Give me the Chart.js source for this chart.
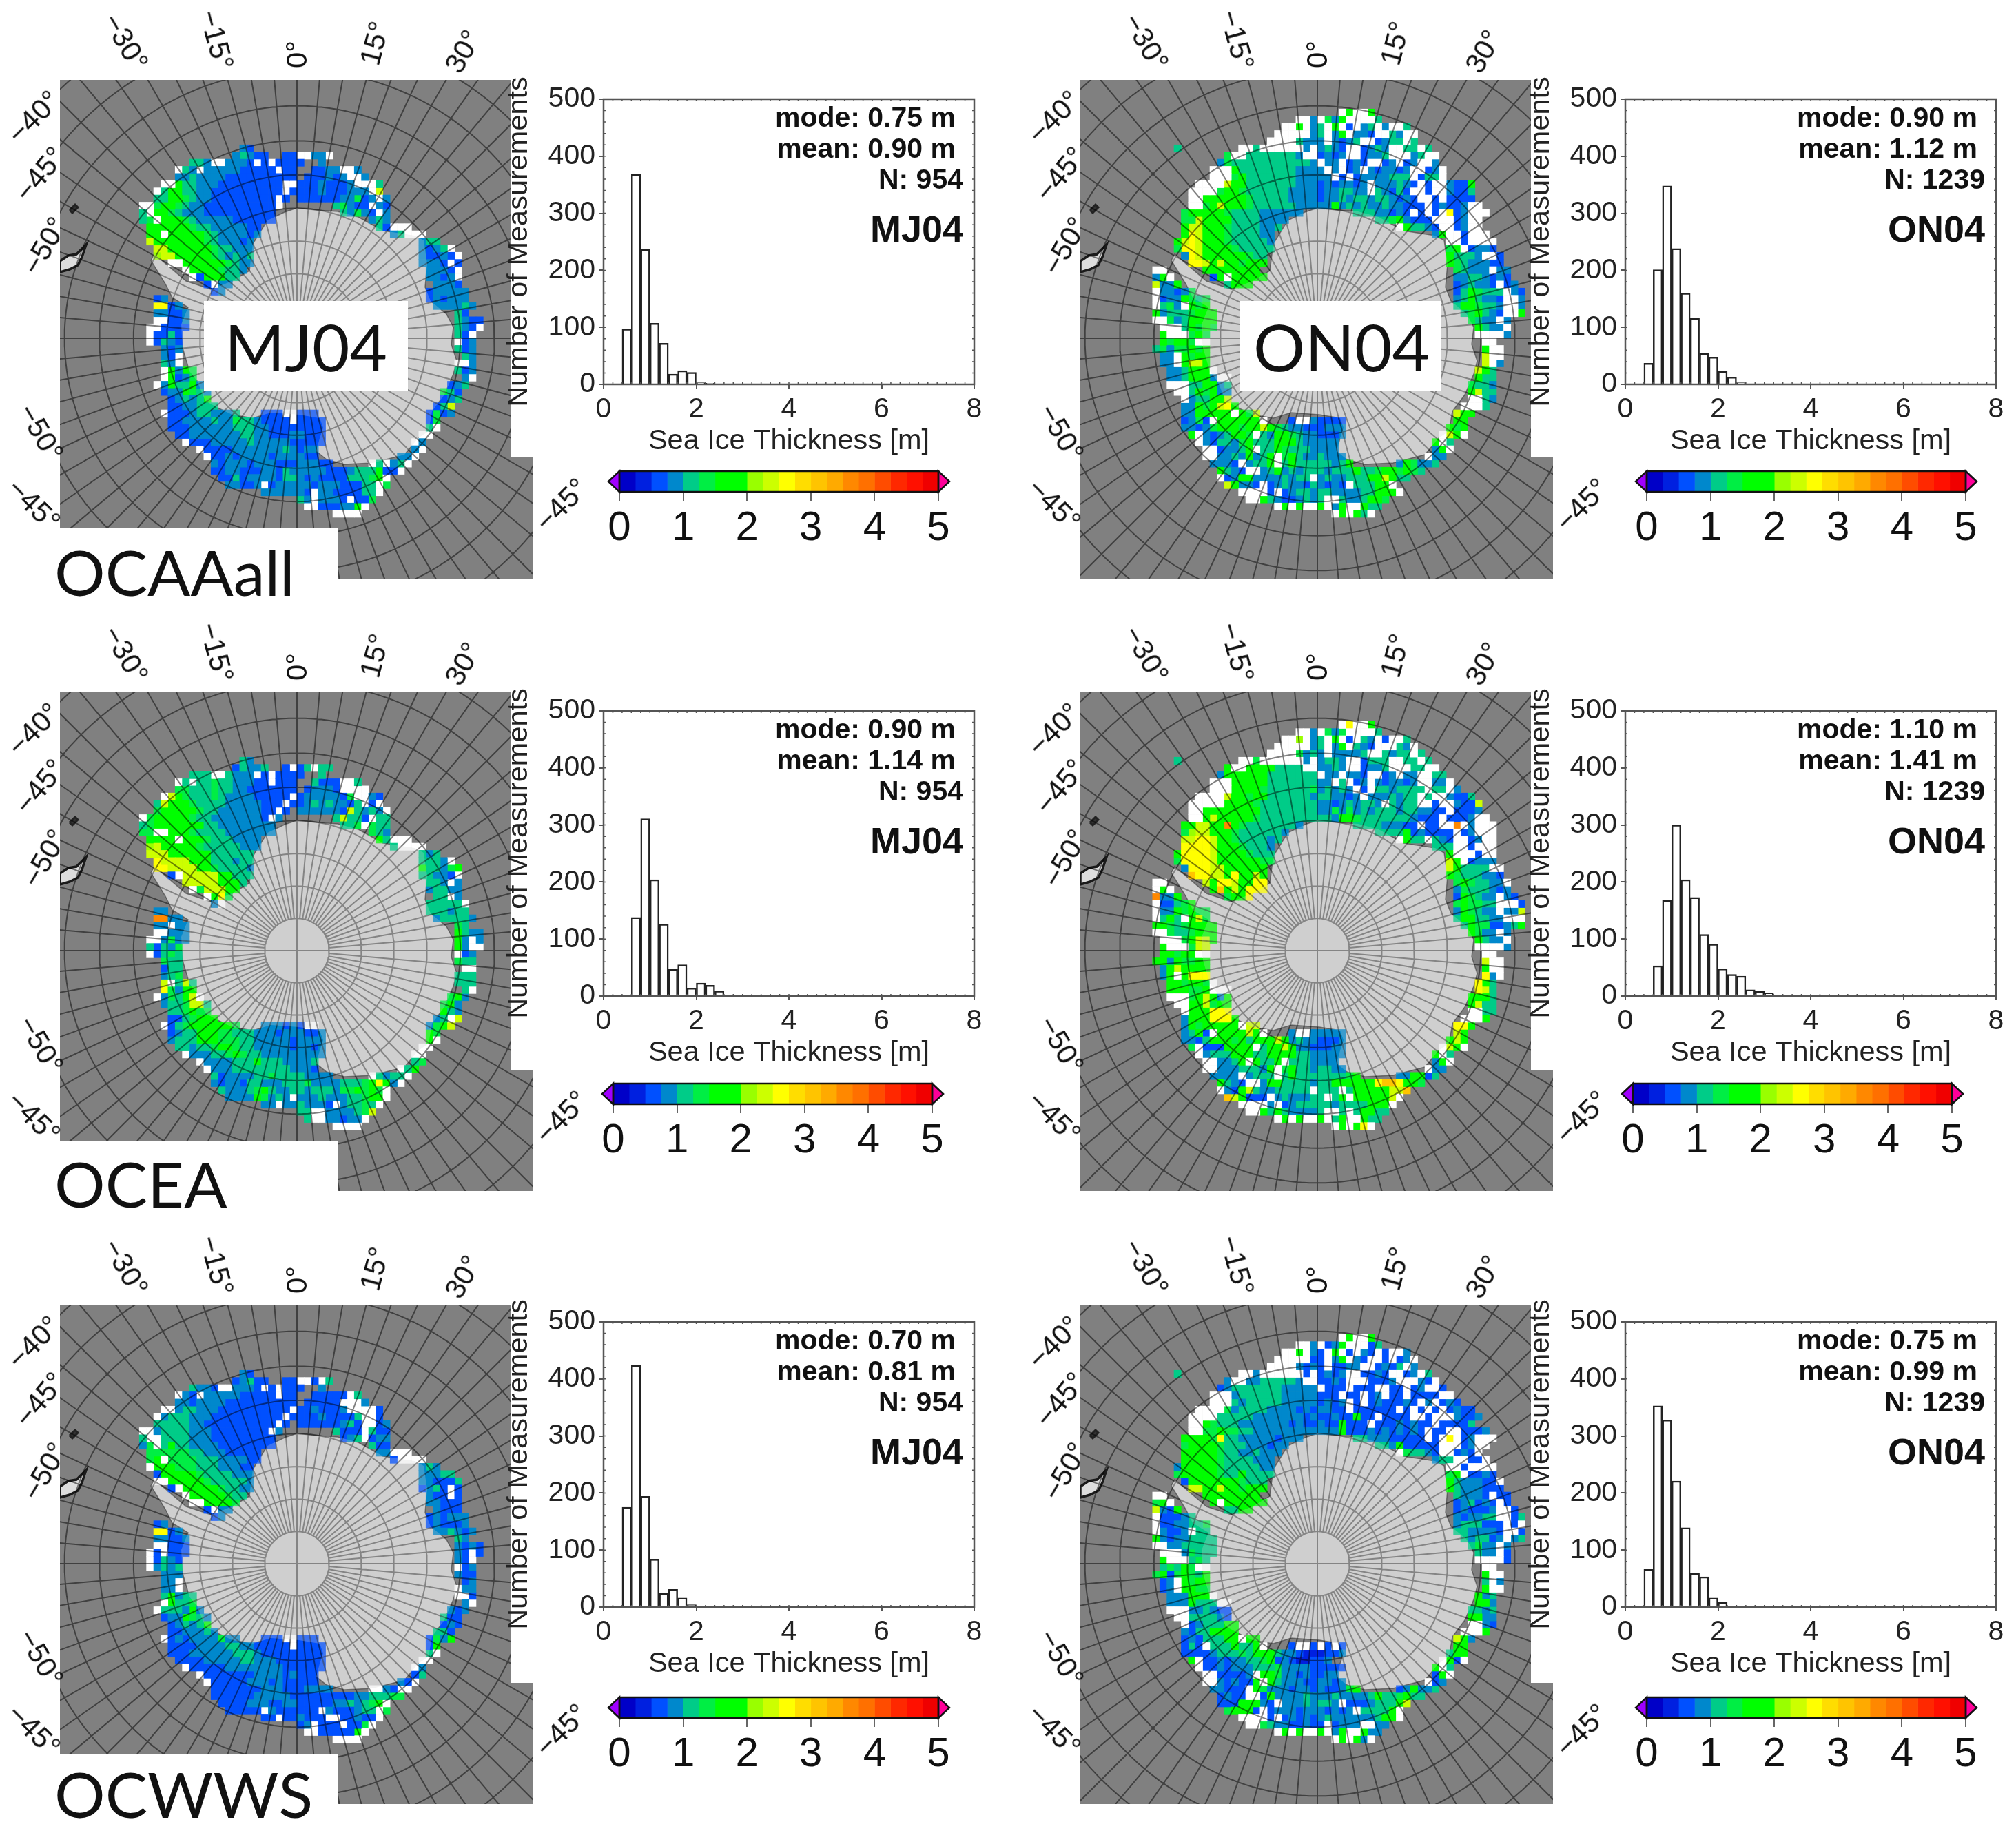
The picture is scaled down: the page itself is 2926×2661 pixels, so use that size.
<!DOCTYPE html>
<html>
<head>
<meta charset="utf-8">
<title>Sea ice thickness</title>
<script src="https://cdn.jsdelivr.net/npm/chart.js@4/dist/chart.umd.min.js"></script>
<style>
html, body { margin: 0; background: #fff; }
#page { position: relative; width: 2926px; height: 2661px; overflow: hidden; }
canvas { position: absolute; filter: blur(0.5px); }
canvas.map { filter: blur(0.7px); }
.txt { position: absolute; white-space: nowrap; color: #111; font-family: "Liberation Sans", sans-serif; line-height: 1; filter: blur(0.4px); }
</style>
</head>
<body>
<div id="page"></div>
<script>
// histogram bins (bin centres, m)
const histBins = [0.5, 0.7, 0.9, 1.1, 1.3, 1.5, 1.7, 1.9, 2.1, 2.3, 2.5, 2.7, 2.9, 3.1, 3.3, 3.5, 3.7];
const countsOCAAallMJ04 = [97, 368, 237, 107, 72, 18, 24, 21, 3, 2, 0, 1, 1];
const countsOCAAallON04 = [37, 201, 348, 238, 160, 116, 54, 48, 23, 13, 3, 1];
const countsOCEAMJ04 = [2, 138, 311, 204, 126, 47, 55, 14, 23, 19, 9, 2, 2, 0, 1, 0, 1];
const countsOCEAON04 = [1, 53, 168, 300, 204, 173, 108, 91, 48, 38, 35, 11, 8, 5, 1];
const countsOCWWSMJ04 = [175, 424, 194, 84, 24, 31, 16, 4, 0, 1, 1, 1];
const countsOCWWSON04 = [66, 353, 328, 221, 139, 59, 53, 16, 8, 2];

const products = ["OCAAall", "OCEA", "OCWWS"];
const seasons = ["MJ04", "ON04"];
const modes = [["0.75", "0.90"], ["0.90", "1.10"], ["0.70", "0.75"]];
const means = [["0.90", "1.12"], ["1.14", "1.41"], ["0.81", "0.99"]];
const sampleSizes = [954, 1239];

// colour bar: 20 classes of 0.25 m, letters a..t in the map rows below
const colorStep = 0.25;
const colorHex = ["#0000c8", "#0020e0", "#0050ff", "#0088cc", "#00cc88", "#00ee44", "#00ff00", "#00ff00", "#99ff00", "#ccff00",
  "#ffff00", "#ffdd00", "#ffc400", "#ffaa00", "#ff8800", "#ff7000", "#ff4c00", "#ff2800", "#ff1000", "#f00000"];
const colorLetters = "abcdefghijklmnopqrst";

// coast of the continent, map units east / north of the pole
const coastX = [0, 28, 59, 89, 125, 171, 184, 189, 186, 194, 217, 227, 224, 232, 227, 214, 196, 191, 176, 156, 110, 69, 43, 28, 33, 38, 33, 3, -38, -64, -94, -115, -133, -145, -156, -166, -168, -158, -181, -191, -212, -207, -161, -125, -94, -69, -64, -43, -18];
const coastY = [189, 186, 184, 176, 156, 149, 142, 108, 74, 54, 35, 16, -9, -33, -52, -82, -106, -135, -145, -169, -181, -183, -176, -164, -145, -130, -116, -111, -108, -116, -111, -101, -91, -62, -48, -14, 20, 45, 59, 79, 113, 122, 83, 71, 83, 98, 137, 171, 183];
const tipX = [-344, -332, -320, -306, -312, -318, -330, -344];
const tipY = [112, 120, 122, 136, 118, 106, 100, 96];
const islandX = [-330, -322, -318, -326];
const islandY = [186, 194, 190, 182];

// gridded thickness classes, one string per grid row from the north, "column:cells", w = no ice thickness value
const firstRow = { MJ04: -27, ON04: -32 };

const mapOCAAallMJ04 = [
"-8:dc","-9:dedcc -2:ccwwddw","-15:eedwwdddcwcwcccc 3:d","-17:wedwdddddcccccwcc 2:ccddwwd","-17:ddeddddcccccccccc 1:cccdcdwwd",
"-19:wwgeedddcccccccccwwc 1:ccdcccdwwwe","-20:weggeeddccccccccccwc 0:cccdcccdddwj","-20:eeggfeddcccccccccwc 0:ccccccddfcdwd",
"-22:wwfggfeddccccccccccw 5:efdccwdc","-22:ewggfedddcccccccccc 6:edfdcwd","-22:efwgggfedddddcccccc 10:ded","-21:ggggggfeedddddcc 11:ecwww",
"-21:ggwgggggfeddddcd 13:dewww","-21:jgggggggfedddcd 17:dee","-20:jjggggggfeeddd 17:dcdew","-20:ijjgggggfedede 17:dccdcw",
"-18:wwggggggfedd 17:dddcwc","-16:wggggfeed 18:dddcw","-15:wcgggee 18:ddcdw","-13:cwdd 19:dddc","-12:cd 18:cddddd","-20:cd 18:cdcddd",
"-20:kkcd 19:dddded","-20:ddccd 22:ec","-20:wwccd 22:edcc","-21:wwcccc 22:edcw","-21:wccec 22:ecw","-21:wcedc 22:wcd","-19:dcd 22:ecd",
"-19:dcw 23:ed","-19:edw 22:wwd","-19:wgdgf 22:ecd","-19:wgcdf 23:dw","-20:wdgeegd 21:cde","-19:cddgfed 20:fec","-18:cdedeg 20:cde",
"-18:ccddeee 19:cej","-19:wcccdeeddde -5:cccwwccc 18:cfcd","-18:ccddddeddfeedccccwcccc 18:cf","-18:cccddddddeeeddcccccccc 18:ew",
"-17:ccdddddddeeddcccddccc 17:ww","-16:wcccdddddedddddccccc 16:wd","-14:wccccdddddddedcdd 16:dw","-13:wccdcddddcddddcc 14:ddw",
"-12:dcdddcdddcccdddcc 10:wewdew","-12:ccddcccddcedddddcccdeeegccw","-11:ccecddddceedcdcccceeefgw","-10:ddccdwcdddddcdddccceewf",
"-5:ddddddcwddcccceew","0:edwdddcwccf","1:wwcccddgw","5:wwww"];

const mapOCEAMJ04 = [
"-8:ed","-9:cedde -2:cwcewee","-15:eeewwedddwcwcccc 3:e","-17:weweefeedddccwccc 2:ecccwwe","-17:ffeeefeeddccccccc 1:cdddcwwww",
"-19:wjgfeeefeddddcccccwc 1:dddddcfwwdc","-20:ejgggfeeeedddddcccwc 0:cdededdcewcw","-20:fgggggfeeddddddccwc 0:ddddddcjededw",
"-22:wfgggggfeedddddddcwd 5:ejeecwee","-22:efgggggggeedddddddd 6:eefwfee","-22:ffwwgggfeeeeddddddd 10:fed","-21:ggggwgggfeeedddd 11:gewww",
"-21:ijgggggfeeeeeddd 13:ewwww","-21:jjjggggggeeeeee 17:ede","-20:kjjjjgggeeedee 17:eeedw","-20:kkjjjjggfeeeed 17:geedfg",
"-18:cwjjjjjggeee 17:eeddcw","-16:jjjjjggge 18:eedwd","-15:wfjjjgg 18:deedd","-13:wgkf 19:eewd","-12:dw 18:eeeeew","-20:dd 18:eeedee",
"-20:oodd 19:deeeed","-20:ddwdd 22:fe","-20:wwddd 22:gedd","-21:wwdfdd 22:gdwd","-21:ecedf 22:gdww","-21:wcefe 22:wcd","-19:fee 22:fee",
"-19:cee 23:ww","-19:def 22:eee","-19:jweje 22:eee","-19:kfdgg 23:ew","-20:wdfegjw 21:fgd","-19:deefjje 20:fgd","-18:eefgff 20:ged",
"-18:ccefggg 19:dewj","-19:wcefggggggf -5:dddcdcww 18:dfgj","-18:cdeegggffeeedddcdddccd 18:gf","-18:deeegggfffeedddddcdddd 18:gw",
"-17:eedeefggfeedddddcddcd 17:ww","-16:wdddeefgfeeddddddddd 16:ww","-14:wddddeeegeeedddde 16:ef","-13:wdddeeeeeeeedddc 14:weg",
"-12:ecddddeefeeeedddd 10:wedeew","-12:dcddceedddeeefddddeeefgkgdw","-11:edddefgeddeedeeedffgfgfw","-10:ddddgfdedwdddedddeefggw",
"-5:ddwddedddcwdeefew","0:eewwddddefj","1:ewwddcddw","5:wwww"];

const mapOCWWSMJ04 = [
"-8:dc","-9:cdecc -2:ccwwcwe","-15:eddcwwdddcwcwccc 3:d","-17:wdcwdddddcccccwcc 2:cccccwe","-17:ddcddddcccccccccc 1:cccccwwwd",
"-19:wwdeedddccccccccccwc 1:cdcccdwwwwc","-20:wdeeedddccccccccccwc 0:cccdccccewwc","-20:eeeeeddccccccccccwc 0:ccccccdecwwcd",
"-22:wwdeeeedddccccccccwd 5:ecccwecc","-22:ewweeeedddccccccccc 6:cdewcdd","-22:dfwegeeddddcccccccc 10:ecc","-21:ffffffeedddccccc 11:ddwww",
"-21:fgwffffeeeddddcc 13:cwwww","-21:wgggfffeeedddcc 17:ded","-20:cgggggfeeeeddd 17:dddee","-20:wwgggggfeeeeed 17:ddccce",
"-18:cwgggggfeedd 17:cdecwc","-16:wgggggfee 18:dccwc","-15:wwggggf 18:ddccc","-13:cwdd 19:dccc","-12:cd 18:cdcddd","-20:cd 18:cdcccd",
"-20:kkcd 19:ddedcd","-20:ddccd 22:ed","-20:wwccc 22:dcdc","-21:wcwccc 22:dcwc","-21:wcedc 22:dcw","-21:wdede 22:wcd","-19:ddd 22:dcc",
"-19:ddw 23:cd","-19:ddw 22:wdd","-19:egdee 22:wwc","-19:wgeef 23:dw","-20:weeedgd 21:dcd","-19:cddgfed 20:ecc","-18:cdedeg 20:cdc",
"-18:ccddded 19:eec","-19:wcdcddddfdd -5:cccwwccc 18:cfdg","-18:ccccddddeeddcccccwcccc 18:cg","-18:cccddddddeeedccccccccc 18:ew",
"-17:ccccdddddeedddccccccc 17:ww","-16:wcccccddddddddcccccc 16:wd","-14:wcccccccddddcdccc 16:ce","-13:wcccccdddcdccccc 14:dcw",
"-12:cccccccdddcccdddd 10:wwdcww","-12:ccccccdddddcccccccccddeeeff","-11:ccccdddccddcccccddedefgw","-10:cccccwdccccccwdcccdeewf",
"-5:ccwccdcccwwccdccw","0:cdwcccwccfw","1:wwcccccgw","5:wwww"];

const mapOCAAallON04 = [
"3:wgwwg","-3:wwdwfdgwwwwe","-5:wwgwdewgwcwdewdwwe","-6:wwwwwdewdgwddcwwedww","-7:wwwwedddwdcdewwcdeewe",
"-20:e -11:wwewwwwwwdwdedcwwcdedwweewe","-13:fwweeeeeeedwwcdcdwwcddewwwdeww","-14:dfeeeeeeeeeeedwddwcdcwwcdwcdwwd","-15:wwwgeeeeeeeeddddwdwcdwdcddcdwwcdw",
"-15:wwwfgeeeeeeedddddwcwcddddeeewceew","-17:wwwwjggeeeeeeedddcdcddcdwdddedcwcwwdccg","-18:wwwwfggfeeeeeeddddcddeeddwedcecwwcwwdcce",
"-18:wwggggggfeeeeeddddcddedeedeedcdcwwcwcccc","-18:wwfgjgggfeeeeeedddddgdededdeddcccwcdccdww","-19:fgggggfeeeedddddd 5:eeeddcdcwcwcwkcdwww",
"-19:ffjggggeeeedddd 8:eefgdcccwwwcdww","-19:gjjgggfeeeedde 11:wgeedcwwcdww","-19:gkjgggfeeeedd 16:dgwwcwww","-20:gjkjgggfeeeeed 18:wwcwwww",
"-20:fkkjggggfeeeee 18:fgwcddc","-19:dkjggggggfee 18:geeedwwc","-18:kkjgjggfggg 18:gfedddcc","-23:ww -16:gggggggg 19:fedddwdd",
"-23:dgw -15:cgwggggg 19:ddeedcdc","-23:jddg -13:eggg 19:cdeddcwcd","-23:wddcdf 19:cegfeeewdc","-23:wcddgfef 19:degeddcwwd",
"-23:wefdwgfg 19:eggfeedwwd","-23:gdeeefggg 20:efgedcwwg","-23:wwfdegggg 21:feddwd","-22:wwwegfgf 22:geddw","-22:gwwwfgf 22:wwwwd",
"-22:gfggfww 23:ww","-23:efdffgfg 23:gww","-22:ddwgfgg 23:jww","-22:ddwgjjg 23:jwd","-21:ddegggw 22:jge","-21:ddegggdww 22:gee",
"-21:wwweeggde 21:feed","-20:wwegfgdd 21:gjee","-19:wdeeggj 21:wwed","-19:ddgfgjkg 20:wwwe","-19:ddgggggwgfj 19:jgg",
"-19:cdfcwggggggw -4:cwwdcccc 19:gg","-19:ddcdfgggfggjgfeddcccddd 18:gfg","-18:gwdcdeggfwedggfeddcccd 17:wjgw","-17:wdceedfgeeegggeddddd 16:gwe",
"-16:wwcddegweegfeeedddd 16:dgw","-16:wwddedgdegwfgeddeddd 15:wdd","-15:dddcwdeegwegeeeeedeg 11:dgfdde","-14:gedcwwdegdedeeedeeegeefggfgfe",
"-14:wcdggddddedeewdeddeeeggjgee","-13:jgddcwcdeddcedcdcweeeggw","-11:wwwwcwcdeedeeddddeegggw","-10:wwgedccdedewweddeggf","-6:wgwgwwgwdgwwgee","2:wgwgew"];

const mapOCEAON04 = [
"3:wkwwg","-3:wwdwfdfwwwwe","-5:wwiwdewgwcwedwcwwe","-6:wwwwwdewdgwedcwwwedw","-7:wwwwfdedwddddewwedeewe",
"-20:e -11:wwfwwwwwwdwdeedwwceeewweewe","-13:gwwggggeeeewwddedwwcddewwweeww","-14:dggggggeeeeeeewddwddcwwcdwddwwee","-15:wwwgggggeeeeeeeddwewcdwdcddcdwwddw",
"-15:wwwggggfeeeeeefdededwcweedeeeeweewd","-17:wwwwjggfggeeeeeedeeddcdwdddedeewewwdcce","-18:wwwwwggggfeeeeeeeeddcdedeedwedeewwcwwdccj",
"-18:wwggggggggeeeeeeeeddfdfdedeeedeeddccwcccd","-18:wwgjgggggfeeeeeeeeeedggfeeeeeeedcccwcccdww","-19:ggjjggogfeeeeeeed 5:eeeedddccwccwwowdwww",
"-19:fijjgggfeeeeeed 8:eeeegcdccccwcdwww","-19:jjkkjggfeeeede 11:wgeewedcwwcdww","-19:kkkkjgggfeeed 16:eeewwcwww","-20:gkkkkjggggfeee 18:gwwwcww",
"-20:fkkkkjggggggff 18:jgwcddd","-19:dkkkjjgggggg 18:jgeeeeww","-18:mkkjjgkggjg 18:gfeeeddc","-23:ww -16:jgkkjggkk 19:fgfeeddw",
"-23:wgw -15:gmgjgkkk 19:dfeeedcd","-23:oddg -13:fggk 19:cgfeddwdc","-23:wccefg 19:fgffeewwwc","-23:wddgfgff 19:dgfeddwddj",
"-23:wegewgjf 19:eggeeddwww","-23:ggfefgggg 20:egffccdeg","-23:wwfeefggg 21:gfddwd","-22:wwwfgjjg 22:geddw","-22:gwwwfjj 22:wwwwd",
"-22:ggfggww 23:ww","-23:ggdgffgg 23:jww","-22:dgjgggg 23:gww","-22:dgwgkkk 23:kdw","-21:ggfggfw 22:kge","-21:gggffgwww 22:kje",
"-21:wwwfgjgdg 21:ggge","-20:wwggjfgg 21:gjee","-19:wgggkkk 21:wwee","-19:dgggkkkg 20:wwwg","-19:dgfgggggwjj 19:kkg",
"-19:degcwggggjgw -4:dwwddddd 19:jg","-19:ddcegggfgegggjgdeddcccd 18:gjg","-18:fwcccggggweggjgddcccdd 17:wjgw","-17:wdeeegggeeggggeeddddd 16:gwe",
"-16:wwddegwgeegweeedddd 16:dgw","-16:wwdddeeedgwfgeedeedd 15:wdd","-15:ddddwdeeewegeeeeeeefg 11:ddggce","-14:gedcwwdggeeeedeeggggggkmmkggf",
"-14:wdcgjeddeeeeeweeewegggggjjm","-13:mjgcccwdedddeewegwgggggjw","-11:wwwwdwcdeeeeedeeeegggw","-10:wwgegeddddewweweggee","-6:wgwgwwgwegwwgee","2:wgwgkw"];

const mapOCWWSON04 = [
"3:wgwwg","-3:wwdwcdgwwwce","-5:wwgwdcwgwcwdcwcwwd","-6:wwwwwccwdgwdcwwcwcdw","-7:wwwwdcdcwccddwwcdcewd",
"-20:e -11:wwdwwwwwwcwcdcdwwccdcwwcdwe","-13:dwwddeeeeedwwccdcwwwcccdwwwdcw","-14:cdeeeeeeedddddwcccwcccwwccwcdwwc","-15:wwwdeeeeeedddddcccwccwcdwccwccccww",
"-15:wwwedeeeeedddddcdcdwcwcdcccdcwdwcdc","-17:wwwwfdeeeeddddcdcddccwccccccwcwcwcwcdcc","-18:wwwweeeeedddddddcdccdccgccwccccwwcwwwdccd",
"-18:wwgfeeedddddddcdccdccgcccwcccdcdccwcccce","-18:wwffgffeeddddddddddddgcccdcdcdcdcwccwwcccd","-19:ggggfkeedddddcddd 5:eedddcccccwcwkwcdwww",
"-19:fggggfeeedddcdd 8:eedgcccccwwwcdww","-19:gggggfeeddeddd 11:wfeedcwwcdcw","-19:gggggfeeeeddd 16:deewwccw","-20:dgggggfeeeeedd 18:wwcwwww",
"-20:fgggggfeegeeee 18:fgwccdc","-19:cgggggggfeee 18:gedddccw","-18:jjggjggfggg 18:gedddccc","-23:ww -16:gggggggg 19:edddcwcc",
"-23:fgw -15:gwgggggg 19:cdecdcwc","-23:jdcg -13:eegg 19:cdcccdwwc","-23:wcccde 19:dcddeewwce","-23:wccddeef 19:deeecccwcw",
"-23:wdccdwee 19:eeddddcwwc","-23:gdcddeeee 20:edeecdwde","-23:wwddeeeee 21:efddwd","-22:wwwdfeee 22:eddwc","-22:gwwwefe 22:wwwwc",
"-22:efegfww 23:ww","-23:fgcfgfeg 23:gww","-22:cdwgfgg 23:ewd","-22:cdwggff 23:gww","-21:dddgggw 22:gde","-21:dddgeeeww 22:ggd",
"-21:wwwddedcc 21:eede","-20:wweeeedc 21:ggdd","-19:wcdeeegg 21:wwdc","-19:dceegggg 20:wwwg","-19:cdceeeggwgg 19:jgd",
"-19:cecweeegeegw -4:cwwcwcwc 19:gg","-19:ccccdeeefegggeddcbbbccd 18:egg","-18:gwccdcddeefgcdcbbccd 17:wgcw","-17:wccdcdddeeefddddccccc 16:gwe",
"-16:wwccccdwggfddcdccdd 16:cgw","-16:wwdcdccgwgedddccddcd 15:wcd","-15:ddcccwgfdddcddcdccdfg 11:cdgdde","-14:cdccwwcgddddedddeddddegeefgee",
"-14:cccgggdcwdddedeedwcccdeeegj","-13:fgggcwcdddcdddcdcdweeeegw","-11:wwwwcwcdcdcdeddddddeggw","-10:wwfeddccdccwcdddwwdd","-6:wgwgwwgwdgwwgdd","2:wgwgdw"];

const panelCounts = [
  [countsOCAAallMJ04, countsOCAAallON04],
  [countsOCEAMJ04, countsOCEAON04],
  [countsOCWWSMJ04, countsOCWWSON04]
];
const panelMaps = [
  [mapOCAAallMJ04, mapOCAAallON04],
  [mapOCEAMJ04, mapOCEAON04],
  [mapOCWWSMJ04, mapOCWWSON04]
];

// page layout
const poleY = [491, 1380, 2270];
const poleX = [431, 1912];
const plotTop = [144, 1032, 1919];
const plotLeft = [876, 2359];
const barLeft = [[899, 2390], [890, 2370], [899, 2390]];
const barMid = [699, 1588, 2479];
const labelBase = [863, 1751, 2637];
const cell = 10.4;
const sansFont = '"Liberation Sans", sans-serif';

const page = document.getElementById("page");

function addCanvas(x, y, w, h, cls) {
  const c = document.createElement("canvas");
  c.width = w;
  c.height = h;
  c.style.left = x + "px";
  c.style.top = y + "px";
  c.style.width = w + "px";
  c.style.height = h + "px";
  if (cls) c.className = cls;
  page.appendChild(c);
  return c;
}

function addText(text, x, y, size, opts = {}) {
  const d = document.createElement("div");
  d.className = "txt";
  d.textContent = text;
  d.style.left = x + "px";
  d.style.top = y + "px";
  d.style.fontSize = size + "px";
  if (opts.bold) d.style.fontWeight = "bold";
  if (opts.family) d.style.fontFamily = opts.family;
  const ax = opts.align === "right" ? "-100%" : opts.align === "left" ? "0" : "-50%";
  d.style.transform = `translate(${ax},-50%) rotate(${opts.rot || 0}deg)`;
  page.appendChild(d);
}

function graticule() {
  const R = 1070;
  const pts = [];
  for (let lon = 0; lon < 360; lon += 5) {
    const a = lon * Math.PI / 180;
    const inner = lon % 90 === 0 ? 0 : 46;
    pts.push({ x: inner * Math.sin(a), y: inner * Math.cos(a) });
    pts.push({ x: 800 * Math.sin(a), y: 800 * Math.cos(a) });
    pts.push({ x: null, y: null });
  }
  for (let lat = 85; lat >= 35; lat -= 5) {
    const r = R * Math.tan((90 - lat) / 2 * Math.PI / 180);
    for (let lon = 0; lon <= 360; lon += 2) {
      const a = lon * Math.PI / 180;
      pts.push({ x: r * Math.sin(a), y: r * Math.cos(a) });
    }
    pts.push({ x: null, y: null });
  }
  return pts;
}

function cellDatasets(rows, first) {
  const groups = {};
  rows.forEach((row, n) => {
    const j = first + n;
    row.split(" ").forEach(seg => {
      const [k0, cells] = seg.split(":");
      [...cells].forEach((ch, i) => {
        const k = parseInt(k0) + i;
        (groups[ch] = groups[ch] || []).push({ x: (k + 0.5) * cell, y: -(j + 0.5) * cell });
      });
    });
  });
  return Object.keys(groups).map(ch => ({
    data: groups[ch],
    showLine: false,
    order: 3,
    pointStyle: "rect",
    pointRadius: cell / Math.SQRT2 + 0.4,
    pointBorderWidth: 0,
    pointBackgroundColor: ch === "w" ? "#ffffff" : colorHex[colorLetters.indexOf(ch)]
  }));
}

function polygon(xs, ys, fill, stroke, width, order) {
  const data = xs.map((x, i) => ({ x, y: ys[i] }));
  data.push({ x: xs[0], y: ys[0] });
  return { data, showLine: true, fill: "shape", backgroundColor: fill, borderColor: stroke, borderWidth: width, pointRadius: 0, order, tension: 0 };
}

function drawMap(row, col) {
  const w = 686, h = 724;
  const px = poleX[col], py = poleY[row];
  const left = px - 344, top = py - 375;
  const canvas = addCanvas(left, top, w, h, "map");
  const season = seasons[col];
  const datasets = [
    polygon(coastX, coastY, "#cfcfcf", "#555555", 1.5, 5),
    polygon(tipX, tipY, "#dddddd", "#1a1a1a", 3.5, 5),
    polygon(islandX, islandY, "#333333", "#222222", 3, 5),
    ...cellDatasets(panelMaps[row][col], firstRow[season]),
    { data: graticule(), showLine: true, spanGaps: false, borderColor: "rgba(0,0,0,0.5)", borderWidth: 2, pointRadius: 0, order: 2, tension: 0 },
    // veil keeps the graticule paler over the continent
    polygon(coastX, coastY, "rgba(207,207,207,0.28)", "rgba(0,0,0,0)", 0, 1)
  ];
  new Chart(canvas, {
    type: "scatter",
    data: { datasets },
    options: {
      responsive: false, animation: false, devicePixelRatio: 1,
      layout: { padding: 0, autoPadding: false },
      events: [],
      scales: {
        x: { type: "linear", display: false, min: -344, max: 342 },
        y: { type: "linear", display: false, min: -349, max: 375 }
      },
      plugins: { legend: { display: false }, tooltip: { enabled: false } }
    },
    plugins: [{
      id: "sheet",
      beforeDatasetsDraw(chart) {
        const g = chart.ctx, a = chart.chartArea;
        g.save();
        g.fillStyle = "#808080";
        g.fillRect(a.left, a.top, a.right - a.left, a.bottom - a.top);
        g.restore();
      },
      afterDraw(chart) {
        const g = chart.ctx;
        g.save();
        g.fillStyle = "#fff";
        g.fillRect(654, 0, 40, 548);
        if (col === 0) g.fillRect(0, 651, 403, 80);
        g.restore();
      }
    }]
  });

  // graticule labels
  const edgeLabels = [["−30°", 182, 61, 60], ["−15°", 314, 58, 75], ["0°", 431, 79, -90], ["15°", 544, 63, -75], ["30°", 672, 75, -60],
    ["−40°", 49, 170, -45], ["−45°", 58, 253, -50], ["−50°", 65, 357, -60], ["−50°", 59, 628, 60], ["−45°", 49, 733, 45], ["−45°", 815, 733, -45]];
  const dy = py - poleY[0], dx = px - poleX[0];
  edgeLabels.forEach(t => addText(t[0], t[1] + dx, t[2] + dy, 42, { rot: t[3] }));

  if (row === 0) {
    const boxLeft = col === 0 ? 296 : 1799;
    const box = document.createElement("div");
    box.style.cssText = `position:absolute;left:${boxLeft}px;top:437px;width:${col === 0 ? 296 : 293}px;height:130px;background:#fff`;
    page.appendChild(box);
    addText(season, boxLeft + 148, 503, 94, { family: "Lato, sans-serif" });
  }
  if (col === 0) addText(products[row], 79, labelBase[row] - 33, 92, { family: "Lato, sans-serif", align: "left" });
}

function drawHist(row, col) {
  const pl = plotLeft[col], pt = plotTop[row];
  const plotW = 538, plotH = 414;
  const yw = 143, xh = 115, padTop = 35;
  const canvas = addCanvas(pl - yw, pt - padTop, Math.min(yw + plotW + 30, 2926 - (pl - yw)), padTop + plotH + xh);
  const counts = panelCounts[row][col];
  new Chart(canvas, {
    type: "bar",
    data: {
      datasets: [{
        data: counts.map((v, i) => ({ x: histBins[i], y: v })),
        backgroundColor: "#ffffff",
        borderColor: "#222222",
        borderWidth: 2.5,
        barPercentage: 1,
        categoryPercentage: 1
      }]
    },
    options: {
      responsive: false, animation: false, devicePixelRatio: 1,
      layout: { padding: { top: padTop, right: canvas.width - yw - plotW, left: 0, bottom: 0 }, autoPadding: false },
      events: [],
      scales: {
        x: {
          type: "linear", min: 0, max: 8, offset: false,
          grid: { offset: false, drawOnChartArea: false, tickLength: 6, color: "#555", lineWidth: 2 },
          border: { display: false },
          ticks: { stepSize: 2, maxRotation: 0, padding: 6, color: "#222", font: { family: sansFont, size: 41 } },
          title: { display: true, text: "Sea Ice Thickness [m]", color: "#222", font: { family: sansFont, size: 41.5 }, padding: { top: 4, bottom: 8 } },
          afterFit(s) { s.height = xh; }
        },
        y: {
          type: "linear", min: 0, max: 500,
          grid: { drawOnChartArea: false, tickLength: 6, color: "#555", lineWidth: 2 },
          border: { display: false },
          ticks: { stepSize: 100, padding: 6, color: "#222", font: { family: sansFont, size: 41 } },
          title: { display: true, text: "Number of Measurements", color: "#222", font: { family: sansFont, size: 41.5, lineHeight: 1 }, padding: { top: 0, bottom: 3 } },
          afterFit(s) { s.width = yw; }
        }
      },
      plugins: { legend: { display: false }, tooltip: { enabled: false } }
    },
    plugins: [{
      id: "frame",
      afterDraw(chart) {
        const g = chart.ctx, a = chart.chartArea, sx = chart.scales.x, sy = chart.scales.y;
        g.save();
        g.strokeStyle = "#555";
        g.lineWidth = 2.5;
        g.strokeRect(a.left, a.top, a.right - a.left, a.bottom - a.top);
        g.lineWidth = 1.5;
        g.beginPath();
        for (let v = 0; v <= 8.001; v += 0.2) {
          const x = sx.getPixelForValue(v);
          g.moveTo(x, a.bottom); g.lineTo(x, a.bottom - 3);
          g.moveTo(x, a.top); g.lineTo(x, a.top + 3);
        }
        for (let v = 0; v <= 500; v += 20) {
          const y = sy.getPixelForValue(v);
          g.moveTo(a.left, y); g.lineTo(a.left + 3, y);
          g.moveTo(a.right, y); g.lineTo(a.right - 3, y);
        }
        g.stroke();
        g.restore();
      }
    }]
  });

  const right = pl + plotW;
  addText(`mode: ${modes[row][col]} m`, right - 27, pt + 26, 41, { bold: true, align: "right" });
  addText(`mean: ${means[row][col]} m`, right - 27, pt + 71, 41, { bold: true, align: "right" });
  addText(`N: ${sampleSizes[col]}`, right - 16, pt + 116, 41, { bold: true, align: "right" });
  addText(seasons[col], right - 16, pt + 188, 54, { bold: true, align: "right" });
}

function drawColorBar(row, col) {
  const bl = barLeft[row][col], mid = barMid[row];
  const pad = 36, barW = 463, barH = 30;
  const canvas = addCanvas(bl - pad, mid - 20, barW + pad * 2, 115);
  new Chart(canvas, {
    type: "bar",
    data: {
      labels: [""],
      datasets: colorHex.map(c => ({ data: [colorStep], backgroundColor: c, barPercentage: 1, categoryPercentage: 1, borderWidth: 0 }))
    },
    options: {
      indexAxis: "y",
      responsive: false, animation: false, devicePixelRatio: 1,
      layout: { padding: { left: pad, right: pad, top: 5, bottom: 0 }, autoPadding: false },
      events: [],
      scales: {
        x: {
          type: "linear", stacked: true, min: 0, max: 5,
          grid: { drawOnChartArea: false, tickLength: 13, color: "#666", lineWidth: 2 },
          border: { display: false },
          ticks: { stepSize: 1, padding: 4, maxRotation: 0, color: "#111", font: { family: sansFont, size: 60 } },
          afterFit(s) { s.height = 115 - 5 - barH; }
        },
        y: { stacked: true, display: false }
      },
      plugins: { legend: { display: false }, tooltip: { enabled: false } }
    },
    plugins: [{
      id: "ends",
      afterDraw(chart) {
        const g = chart.ctx, a = chart.chartArea, m = (a.top + a.bottom) / 2;
        const tri = (x, tip, fill) => {
          g.fillStyle = fill;
          g.beginPath();
          g.moveTo(x, a.top); g.lineTo(tip, m); g.lineTo(x, a.bottom); g.closePath();
          g.fill(); g.stroke();
        };
        g.save();
        g.strokeStyle = "#111";
        g.lineWidth = 2.5;
        tri(a.left, a.left - 16, "#a000ff");
        tri(a.right, a.right + 16, "#ff0099");
        g.strokeRect(a.left, a.top, a.right - a.left, a.bottom - a.top);
        g.restore();
      }
    }]
  });
}

for (let row = 0; row < 3; row++) {
  for (let col = 0; col < 2; col++) {
    drawMap(row, col);
    drawHist(row, col);
    drawColorBar(row, col);
  }
}
</script>
</body>
</html>
